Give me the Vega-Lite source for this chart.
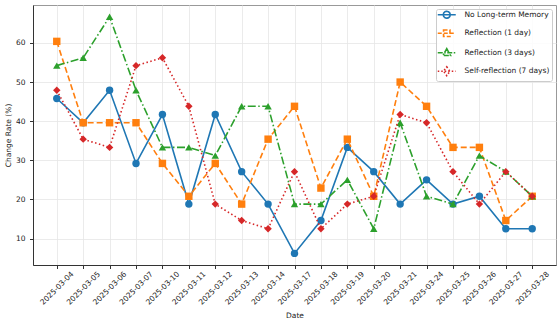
{
  "$schema": "https://vega.github.io/schema/vega-lite/v6.json",
  "width": 523,
  "height": 260,
  "autosize": {"type": "none"},
  "padding": {"left": 33, "top": 5, "right": 4, "bottom": 60},
  "config": {
    "font": "DejaVu Sans",
    "view": {"stroke": "#999", "strokeWidth": 1},
    "axis": {
      "labelFont": "DejaVu Sans",
      "titleFont": "DejaVu Sans",
      "labelFontSize": 7.5,
      "titleFontSize": 7.5,
      "titleFontWeight": "normal",
      "labelColor": "#222",
      "titleColor": "#222",
      "gridColor": "#e6e6e6",
      "gridWidth": 0.8,
      "tickColor": "#333",
      "tickSize": 3.5,
      "domainColor": "#333"
    },
    "legend": {"labelFont": "DejaVu Sans"}
  },
  "data": {
    "values": [
      {"date": "2025-03-04", "series": "No Long-term Memory", "value": 45.8},
      {"date": "2025-03-05", "series": "No Long-term Memory", "value": 39.6},
      {"date": "2025-03-06", "series": "No Long-term Memory", "value": 47.9},
      {"date": "2025-03-07", "series": "No Long-term Memory", "value": 29.2},
      {"date": "2025-03-10", "series": "No Long-term Memory", "value": 41.7},
      {"date": "2025-03-11", "series": "No Long-term Memory", "value": 18.8},
      {"date": "2025-03-12", "series": "No Long-term Memory", "value": 41.7},
      {"date": "2025-03-13", "series": "No Long-term Memory", "value": 27.1},
      {"date": "2025-03-14", "series": "No Long-term Memory", "value": 18.8},
      {"date": "2025-03-17", "series": "No Long-term Memory", "value": 6.2},
      {"date": "2025-03-18", "series": "No Long-term Memory", "value": 14.6},
      {"date": "2025-03-19", "series": "No Long-term Memory", "value": 33.3},
      {"date": "2025-03-20", "series": "No Long-term Memory", "value": 27.1},
      {"date": "2025-03-21", "series": "No Long-term Memory", "value": 18.8},
      {"date": "2025-03-24", "series": "No Long-term Memory", "value": 25.0},
      {"date": "2025-03-25", "series": "No Long-term Memory", "value": 18.8},
      {"date": "2025-03-26", "series": "No Long-term Memory", "value": 20.8},
      {"date": "2025-03-27", "series": "No Long-term Memory", "value": 12.5},
      {"date": "2025-03-28", "series": "No Long-term Memory", "value": 12.5},
      {"date": "2025-03-04", "series": "Reflection (1 day)", "value": 60.4},
      {"date": "2025-03-05", "series": "Reflection (1 day)", "value": 39.6},
      {"date": "2025-03-06", "series": "Reflection (1 day)", "value": 39.6},
      {"date": "2025-03-07", "series": "Reflection (1 day)", "value": 39.6},
      {"date": "2025-03-10", "series": "Reflection (1 day)", "value": 29.2},
      {"date": "2025-03-11", "series": "Reflection (1 day)", "value": 20.8},
      {"date": "2025-03-12", "series": "Reflection (1 day)", "value": 29.2},
      {"date": "2025-03-13", "series": "Reflection (1 day)", "value": 18.8},
      {"date": "2025-03-14", "series": "Reflection (1 day)", "value": 35.4},
      {"date": "2025-03-17", "series": "Reflection (1 day)", "value": 43.8},
      {"date": "2025-03-18", "series": "Reflection (1 day)", "value": 22.9},
      {"date": "2025-03-19", "series": "Reflection (1 day)", "value": 35.4},
      {"date": "2025-03-20", "series": "Reflection (1 day)", "value": 20.8},
      {"date": "2025-03-21", "series": "Reflection (1 day)", "value": 50.0},
      {"date": "2025-03-24", "series": "Reflection (1 day)", "value": 43.8},
      {"date": "2025-03-25", "series": "Reflection (1 day)", "value": 33.3},
      {"date": "2025-03-26", "series": "Reflection (1 day)", "value": 33.3},
      {"date": "2025-03-27", "series": "Reflection (1 day)", "value": 14.6},
      {"date": "2025-03-28", "series": "Reflection (1 day)", "value": 20.8},
      {"date": "2025-03-04", "series": "Reflection (3 days)", "value": 54.2},
      {"date": "2025-03-05", "series": "Reflection (3 days)", "value": 56.2},
      {"date": "2025-03-06", "series": "Reflection (3 days)", "value": 66.7},
      {"date": "2025-03-07", "series": "Reflection (3 days)", "value": 47.9},
      {"date": "2025-03-10", "series": "Reflection (3 days)", "value": 33.3},
      {"date": "2025-03-11", "series": "Reflection (3 days)", "value": 33.3},
      {"date": "2025-03-12", "series": "Reflection (3 days)", "value": 31.2},
      {"date": "2025-03-13", "series": "Reflection (3 days)", "value": 43.8},
      {"date": "2025-03-14", "series": "Reflection (3 days)", "value": 43.8},
      {"date": "2025-03-17", "series": "Reflection (3 days)", "value": 18.8},
      {"date": "2025-03-18", "series": "Reflection (3 days)", "value": 18.8},
      {"date": "2025-03-19", "series": "Reflection (3 days)", "value": 25.0},
      {"date": "2025-03-20", "series": "Reflection (3 days)", "value": 12.5},
      {"date": "2025-03-21", "series": "Reflection (3 days)", "value": 39.6},
      {"date": "2025-03-24", "series": "Reflection (3 days)", "value": 20.8},
      {"date": "2025-03-25", "series": "Reflection (3 days)", "value": 18.8},
      {"date": "2025-03-26", "series": "Reflection (3 days)", "value": 31.2},
      {"date": "2025-03-27", "series": "Reflection (3 days)", "value": 27.1},
      {"date": "2025-03-28", "series": "Reflection (3 days)", "value": 20.8},
      {"date": "2025-03-04", "series": "Self-reflection (7 days)", "value": 47.9},
      {"date": "2025-03-05", "series": "Self-reflection (7 days)", "value": 35.4},
      {"date": "2025-03-06", "series": "Self-reflection (7 days)", "value": 33.3},
      {"date": "2025-03-07", "series": "Self-reflection (7 days)", "value": 54.2},
      {"date": "2025-03-10", "series": "Self-reflection (7 days)", "value": 56.2},
      {"date": "2025-03-11", "series": "Self-reflection (7 days)", "value": 43.8},
      {"date": "2025-03-12", "series": "Self-reflection (7 days)", "value": 18.8},
      {"date": "2025-03-13", "series": "Self-reflection (7 days)", "value": 14.6},
      {"date": "2025-03-14", "series": "Self-reflection (7 days)", "value": 12.5},
      {"date": "2025-03-17", "series": "Self-reflection (7 days)", "value": 27.1},
      {"date": "2025-03-18", "series": "Self-reflection (7 days)", "value": 12.5},
      {"date": "2025-03-19", "series": "Self-reflection (7 days)", "value": 18.8},
      {"date": "2025-03-20", "series": "Self-reflection (7 days)", "value": 20.8},
      {"date": "2025-03-21", "series": "Self-reflection (7 days)", "value": 41.7},
      {"date": "2025-03-24", "series": "Self-reflection (7 days)", "value": 39.6},
      {"date": "2025-03-25", "series": "Self-reflection (7 days)", "value": 27.1},
      {"date": "2025-03-26", "series": "Self-reflection (7 days)", "value": 18.8},
      {"date": "2025-03-27", "series": "Self-reflection (7 days)", "value": 27.1},
      {"date": "2025-03-28", "series": "Self-reflection (7 days)", "value": 20.8}
    ]
  },
  "encoding": {
    "x": {
      "field": "date",
      "type": "ordinal",
      "sort": null,
      "title": "Date",
      "scale": {"type": "point", "padding": 0.9},
      "axis": {
        "labelAngle": -45,
        "labelAlign": "center",
        "labelBaseline": "middle",
        "labelPadding": 19.5,
        "labelOverlap": false,
        "grid": true,
        "titlePadding": 6
      }
    },
    "y": {
      "field": "value",
      "type": "quantitative",
      "title": "Change Rate (%)",
      "scale": {"domain": [3.23, 69.7], "nice": false, "zero": false},
      "axis": {
        "values": [10, 20, 30, 40, 50, 60],
        "labelPadding": 4.5,
        "titlePadding": 3,
        "grid": true
      }
    }
  },
  "layer": [
    {
      "mark": {"type": "point", "filled": true, "opacity": 0, "strokeWidth": 1.6},
      "encoding": {
        "color": {
          "field": "series",
          "type": "nominal",
          "scale": {
            "domain": ["No Long-term Memory", "Reflection (1 day)", "Reflection (3 days)", "Self-reflection (7 days)"],
            "range": ["#1f77b4", "#ff7f0e", "#2ca02c", "#d62728"]
          },
          "legend": {
            "title": null,
            "orient": "top-right",
            "offset": 4,
            "padding": 2,
            "strokeColor": "#cccccc",
            "fillColor": "rgba(255,255,255,0.85)",
            "cornerRadius": 2,
            "labelFontSize": 7.5,
            "labelColor": "#222",
            "symbolSize": 16,
            "symbolStrokeWidth": 1.6,
            "symbolOpacity": 1,
            "symbolOffset": 5,
            "labelOffset": 14,
            "rowPadding": 4.5
          }
        },
        "shape": {
          "field": "series",
          "type": "nominal",
          "scale": {
            "domain": ["No Long-term Memory", "Reflection (1 day)", "Reflection (3 days)", "Self-reflection (7 days)"],
            "range": [
              "M-4.5,0L4.5,0M1.75,0L1.516,0.875L0.875,1.516L0,1.75L-0.875,1.516L-1.516,0.875L-1.75,0L-1.516,-0.875L-0.875,-1.516L0,-1.75L0.875,-1.516L1.516,-0.875Z",
              "M-4.5,0L4.5,0M-1.6,-1.6L1.6,-1.6L1.6,1.6L-1.6,1.6Z",
              "M-4.5,0L4.5,0M0,-2L1.9,1.4L-1.9,1.4Z",
              "M-4.5,0L4.5,0M0,-2.2L1.6,0L0,2.2L-1.6,0Z"
            ]
          },
          "legend": {"title": null}
        },
        "stroke": {
          "field": "series",
          "type": "nominal",
          "scale": {
            "domain": ["No Long-term Memory", "Reflection (1 day)", "Reflection (3 days)", "Self-reflection (7 days)"],
            "range": ["#1f77b4", "#ff7f0e", "#2ca02c", "#d62728"]
          },
          "legend": {"title": null}
        },
        "strokeDash": {
          "field": "series",
          "type": "nominal",
          "scale": {
            "domain": ["No Long-term Memory", "Reflection (1 day)", "Reflection (3 days)", "Self-reflection (7 days)"],
            "range": [[1, 0], [4, 2], [5, 1.5, 1.5, 1.5], [1.5, 2]]
          },
          "legend": {"title": null}
        }
      }
    },
    {
      "transform": [{"filter": {"field": "series", "equal": "No Long-term Memory"}}],
      "mark": {"type": "line", "strokeWidth": 1.6, "color": "#1f77b4"}
    },
    {
      "transform": [{"filter": {"field": "series", "equal": "No Long-term Memory"}}],
      "mark": {"type": "point", "filled": true, "size": 55, "opacity": 1, "shape": "circle", "color": "#1f77b4"}
    },
    {
      "transform": [{"filter": {"field": "series", "equal": "Reflection (1 day)"}}],
      "mark": {"type": "line", "strokeWidth": 1.6, "strokeDash": [6, 3], "color": "#ff7f0e"}
    },
    {
      "transform": [{"filter": {"field": "series", "equal": "Reflection (1 day)"}}],
      "mark": {"type": "point", "filled": true, "size": 55, "opacity": 1, "shape": "square", "color": "#ff7f0e"}
    },
    {
      "transform": [{"filter": {"field": "series", "equal": "Reflection (3 days)"}}],
      "mark": {"type": "line", "strokeWidth": 1.6, "strokeDash": [8, 2.5, 1.5, 2.5], "color": "#2ca02c"}
    },
    {
      "transform": [{"filter": {"field": "series", "equal": "Reflection (3 days)"}}],
      "mark": {"type": "point", "filled": true, "size": 55, "opacity": 1, "shape": "triangle-up", "color": "#2ca02c"}
    },
    {
      "transform": [{"filter": {"field": "series", "equal": "Self-reflection (7 days)"}}],
      "mark": {"type": "line", "strokeWidth": 1.6, "strokeDash": [1.5, 2.5], "color": "#d62728"}
    },
    {
      "transform": [{"filter": {"field": "series", "equal": "Self-reflection (7 days)"}}],
      "mark": {"type": "point", "filled": true, "size": 55, "opacity": 1, "shape": "diamond", "color": "#d62728"}
    }
  ]
}
